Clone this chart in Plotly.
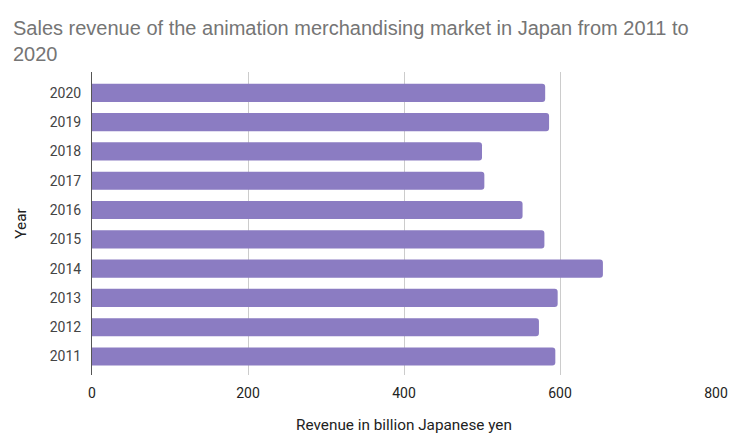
import plotly.graph_objects as go

years = ["2011", "2012", "2013", "2014", "2015", "2016", "2017", "2018", "2019", "2020"]
revenue = [594, 573, 597, 655, 580, 552, 503, 500, 586, 581]
x_ticks = [0, 200, 400, 600, 800]

title_text = "Sales revenue of the animation merchandising market in Japan from 2011 to<br>2020"
x_title = "Revenue in billion Japanese yen"
y_title = "Year"

fig = go.Figure(
    go.Bar(
        x=revenue,
        y=years,
        orientation="h",
        marker=dict(color="#8b7cc2", line=dict(width=0)),
        hoverinfo="x+y",
    )
)

fig.update_layout(
    width=732,
    height=440,
    margin=dict(l=92, r=16, t=72, b=65, autoexpand=False),
    paper_bgcolor="white",
    plot_bgcolor="white",
    bargap=0.38,
    barcornerradius=3,
    showlegend=False,
    title=dict(
        text=title_text,
        x=13 / 732,
        xanchor="left",
        xref="container",
        y=1 - 35 / 440,
        yref="container",
        yanchor="middle",
        font=dict(family="Liberation Sans, Arial, sans-serif", size=20, color="#757575"),
    ),
    font=dict(family="Roboto, Arial, sans-serif", size=14, color="#222222"),
)

fig.update_xaxes(
    range=[0, 800],
    tickvals=x_ticks,
    showgrid=True,
    gridcolor="#cccccc",
    gridwidth=1,
    zeroline=False,
    showline=False,
    ticks="",
    automargin=False,
    ticklabelstandoff=8,
    tickfont=dict(size=14, color="#222222"),
    title=dict(text=x_title, font=dict(size=15.3, color="#222222"), standoff=19),
)

fig.update_yaxes(
    type="category",
    categoryorder="array",
    categoryarray=years,
    range=[-0.63, 9.71],
    showgrid=False,
    showline=True,
    linecolor="#555555",
    linewidth=1,
    ticks="",
    automargin=False,
    ticklabelstandoff=7,
    tickfont=dict(size=14, color="#444444"),
    title=dict(text=y_title, font=dict(size=15.3, color="#222222"), standoff=19),
)

fig.write_html(
    "out.html",
    config={"displayModeBar": False},
    post_script="document.body.style.margin='0';document.body.style.overflow='hidden';",
)
